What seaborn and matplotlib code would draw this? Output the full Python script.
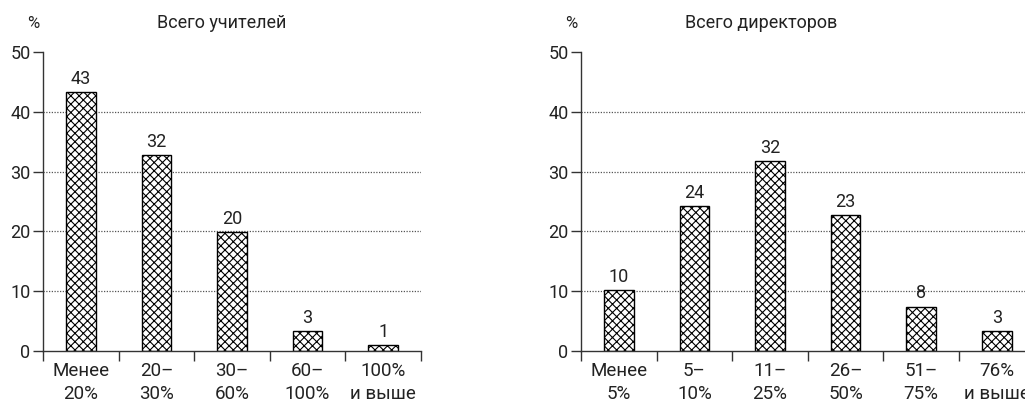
import matplotlib
matplotlib.use("Agg")
import matplotlib.pyplot as plt
import seaborn as sns
import pandas as pd
from matplotlib.ticker import FixedLocator

sns.set_style("white")
plt.rcParams['font.family'] = ['Roboto', 'DejaVu Sans']
plt.rcParams['hatch.linewidth'] = 0.8

teacher_cats = ["Менее\n20%", "20–\n30%", "30–\n60%", "60–\n100%", "100%\nи выше"]
teacher_vals = [43.4, 32.8, 19.9, 3.3, 0.9]
teacher_labels = ["43", "32", "20", "3", "1"]

director_cats = ["Менее\n5%", "5–\n10%", "11–\n25%", "26–\n50%", "51–\n75%", "76%\nи выше"]
director_vals = [10.1, 24.2, 31.8, 22.7, 7.4, 3.3]
director_labels = ["10", "24", "32", "23", "8", "3"]

titles = ["Всего учителей", "Всего директоров"]
yticks = [0, 10, 20, 30, 40, 50]

W, H = 1025, 403
fig = plt.figure(figsize=(W / 100, H / 100), dpi=100)

cat_w = 75.6
axes_specs = [
    (43, teacher_cats, teacher_vals, teacher_labels, titles[0], 222, 33),
    (581, director_cats, director_vals, director_labels, titles[1], 761, 571),
]
ax_bottom = (H - 350.7) / H
ax_height = 298.4 / H
axis_col = "#333333"
text_col = "#222222"

for left_px, cats, vals, labs, title, title_x, pct_x in axes_specs:
    n = len(cats)
    ax = fig.add_axes([left_px / W, ax_bottom, n * cat_w / W, ax_height])
    df = pd.DataFrame({"cat": cats, "val": vals})
    sns.barplot(data=df, x="cat", y="val", ax=ax, color="white",
                edgecolor="black", linewidth=1.0, hatch="xxxx", width=0.39,
                saturation=1)
    ax.bar_label(ax.containers[0], labels=labs, padding=3,
                 fontsize=13, color=text_col)
    ax.set_xlim(-0.5, n - 0.5)
    ax.set_ylim(0, 50)
    ax.set_xlabel("")
    ax.set_ylabel("")
    ax.set_yticks(yticks)
    ax.set_yticklabels([str(t) for t in yticks], fontsize=13, color=text_col)
    ax.tick_params(axis="y", length=7, width=1, color=axis_col, pad=2, left=True)
    ax.set_xticks(range(n))
    ax.set_xticklabels(cats, fontsize=13.5, color=text_col, linespacing=1.35)
    ax.tick_params(axis="x", which="major", length=0, pad=8)
    ax.xaxis.set_minor_locator(FixedLocator([i - 0.5 for i in range(n + 1)]))
    ax.tick_params(axis="x", which="minor", length=7, width=1, color=axis_col,
                   bottom=True)
    for y in [10, 20, 30, 40]:
        ax.axhline(y, color="#555555", linestyle=(0, (1, 1.2)), linewidth=0.9,
                   zorder=0)
    for side in ["top", "right"]:
        ax.spines[side].set_visible(False)
    for side in ["left", "bottom"]:
        ax.spines[side].set_color(axis_col)
        ax.spines[side].set_linewidth(1.0)
    ax.set_facecolor("none")
    fig.text(title_x / W, 1 - 23 / H, title, ha="center", va="center",
             fontsize=13, color=text_col)
    fig.text(pct_x / W, 1 - 24 / H, "%", ha="center", va="center",
             fontsize=12, color=text_col)

fig.savefig("out.png", dpi=100)
